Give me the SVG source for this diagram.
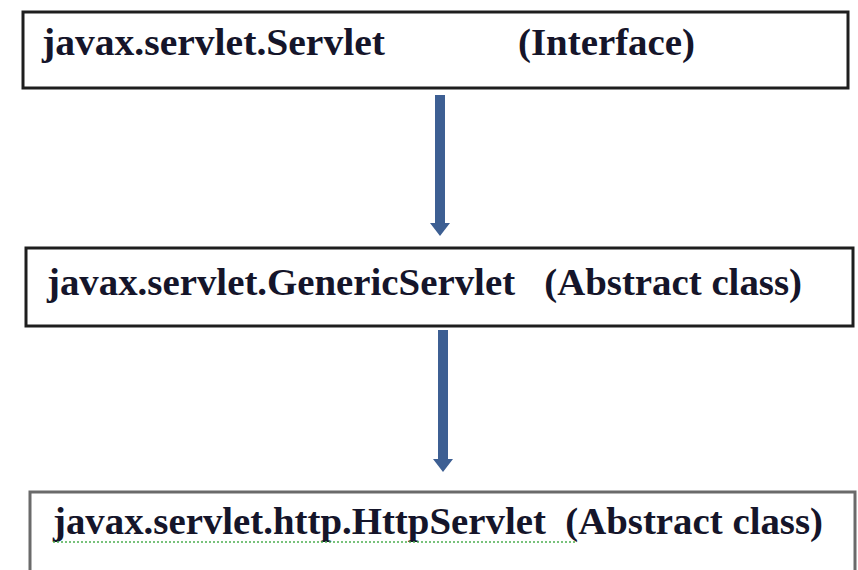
<svg xmlns="http://www.w3.org/2000/svg" width="858" height="570" viewBox="0 0 858 570">
  <style>
    .box { fill: #ffffff; stroke: #1e1e1e; stroke-width: 3; }
    .box.light { stroke: #6a6a6a; }
    .label { font-weight: 700; font-size: 38px; fill: #15152a; }
    .link { fill: #3d5f93; stroke: none; }
    .squiggle { fill: none; stroke: #4caf50; stroke-width: 1.5; stroke-dasharray: 2 2; }
  </style>
  <rect width="858" height="570" fill="#ffffff"/>

  <g font-family="Liberation Serif, DejaVu Serif, serif">
    <g id="servlet-interface">
      <rect class="box" x="23" y="12" width="825" height="76"/>
      <text class="label" x="42" y="55" textLength="343" lengthAdjust="spacingAndGlyphs">javax.servlet.Servlet</text>
      <text class="label" x="518" y="55" textLength="177" lengthAdjust="spacingAndGlyphs">(Interface)</text>
    </g>

    <g id="generic-servlet">
      <rect class="box" x="26" y="248" width="827" height="78"/>
      <text class="label" x="47" y="295" textLength="755" lengthAdjust="spacingAndGlyphs" xml:space="preserve">javax.servlet.GenericServlet   (Abstract class)</text>
    </g>

    <g id="http-servlet">
      <rect class="box light" x="30" y="492" width="825" height="80"/>
      <text class="label" x="53" y="534" textLength="770" lengthAdjust="spacingAndGlyphs" xml:space="preserve">javax.servlet.http.HttpServlet  (Abstract class)</text>
      <path class="squiggle" d="M53 542 L575 542"/>
    </g>
  </g>

  <g id="connectors">
    <path class="link" d="M435 95 H445 V223 H450 L440 236 L430 223 H435 Z"/>
    <path class="link" d="M438 330 H448 V459 H453 L443 472 L433 459 H438 Z"/>
  </g>
</svg>
